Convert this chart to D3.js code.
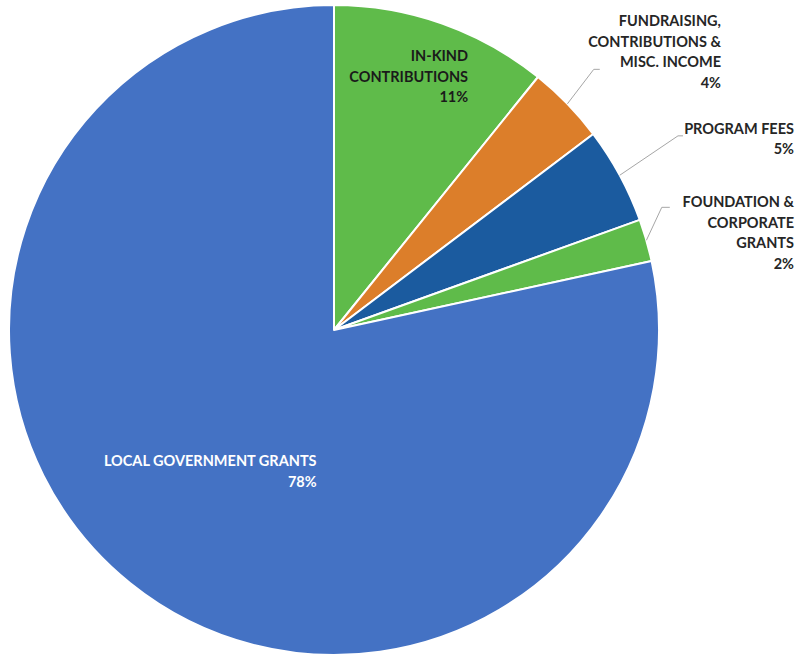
<!DOCTYPE html>
<html>
<head>
<meta charset="utf-8">
<script src="https://cdn.jsdelivr.net/npm/d3@7"></script>
<style>
  html, body { margin: 0; padding: 0; background: #fff; }
  svg { display: block; }
</style>
</head>
<body>
<script>
// slices, clockwise from 12 o'clock
var categories = ["IN-KIND CONTRIBUTIONS", "FUNDRAISING, CONTRIBUTIONS & MISC. INCOME",
                  "PROGRAM FEES", "FOUNDATION & CORPORATE GRANTS", "LOCAL GOVERNMENT GRANTS"];
var values = [10.8, 3.9, 4.8, 2.1, 78.4];
var pctLabels = ["11%", "4%", "5%", "2%", "78%"];
var labelLines = [["IN-KIND", "CONTRIBUTIONS"],
                  ["FUNDRAISING,", "CONTRIBUTIONS &", "MISC. INCOME"],
                  ["PROGRAM FEES"],
                  ["FOUNDATION &", "CORPORATE", "GRANTS"],
                  ["LOCAL GOVERNMENT GRANTS"]];
var colors = ["#5fbb4a", "#dc7e2a", "#1b5b9f", "#5fbb4a", "#4472c4"];

var w = 796, h = 657;
var cx = 334, cy = 330, r = 325;

// label layout (inside: radius/rotation for centre; outside: elbow, text right edge)
var layout = [
  {inside: true, rad: 264, rot: -3, color: "#1a1a1a"},
  {inside: false, elbowR: 368, elbowRot: -1, tail: 6, right: 721, firstDy: -43},
  {inside: false, elbowR: 395, elbowRot: -1, tail: 5, right: 794, firstDy: -2},
  {inside: false, elbowR: 350, elbowRot: -4.5, tail: 8, right: 794, firstDy: 0},
  {inside: true, rad: 188, rot: 2.3, color: "#ffffff"}
];
var lineH = 20.5;

var svg = d3.select("body").append("svg")
    .attr("width", w)
    .attr("height", h);

var pie = d3.pie().sort(null).value(function(d) { return d; });
var arcs = pie(values);
var arc = d3.arc().innerRadius(0).outerRadius(r);

var g = svg.append("g").attr("transform", "translate(" + cx + "," + cy + ")");

g.selectAll("path.slice")
  .data(arcs)
  .enter().append("path")
  .attr("class", "slice")
  .attr("d", arc)
  .attr("fill", function(d, i) { return colors[i]; })
  .attr("stroke", "#fff")
  .attr("stroke-width", 2)
  .attr("stroke-linejoin", "round");

function polar(rad, ang) {
  return [rad * Math.sin(ang), -rad * Math.cos(ang)];
}

var font = "Lato, 'Open Sans', sans-serif";
var deg = Math.PI / 180;

arcs.forEach(function(a, i) {
  var L = layout[i];
  var mid = (a.startAngle + a.endAngle) / 2;
  var lines = labelLines[i].concat([pctLabels[i]]);
  var t = g.append("text")
    .attr("font-family", font)
    .attr("font-weight", 700)
    .attr("font-size", "14.5px")
    .attr("text-anchor", "end");

  if (L.inside) {
    var c = polar(L.rad, mid + L.rot * deg);
    t.attr("fill", L.color);
    lines.forEach(function(s, k) {
      t.append("tspan").attr("y", c[1] + 5 + (k - (lines.length - 1) / 2) * lineH).text(s);
    });
    var maxW = 0;
    t.selectAll("tspan").each(function() { maxW = Math.max(maxW, this.getComputedTextLength()); });
    t.selectAll("tspan").attr("x", c[0] + maxW / 2);
  } else {
    var p0 = polar(r, mid);
    var e = polar(L.elbowR, mid + L.elbowRot * deg);
    g.append("polyline")
      .attr("points", [p0, e, [e[0] + L.tail, e[1]]].map(function(p) { return p.join(","); }).join(" "))
      .attr("fill", "none")
      .attr("stroke", "#a6a6a6")
      .attr("stroke-width", 1);
    t.attr("fill", "#262626");
    lines.forEach(function(s, k) {
      t.append("tspan")
        .attr("x", L.right - cx)
        .attr("y", e[1] + L.firstDy + k * lineH)
        .text(s);
    });
  }
});
</script>
</body>
</html>
